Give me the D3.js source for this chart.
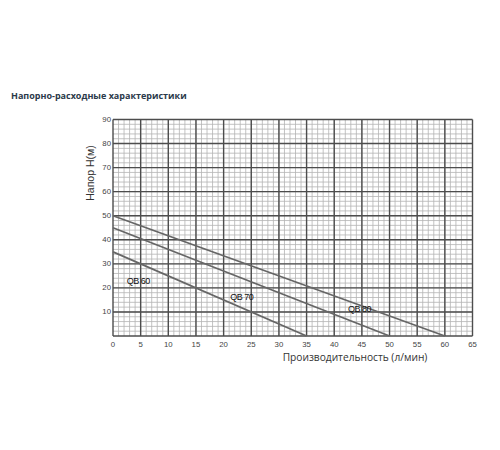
<!DOCTYPE html>
<html>
<head>
<meta charset="utf-8">
<script src="https://cdn.jsdelivr.net/npm/d3@7"></script>
<style>
  body { margin: 0; background: #fff; }
</style>
</head>
<body>
<div id="vis_container"></div>
<script>
// pump curves: head (m) vs flow (l/min)
var seriesNames = ["QB 60", "QB 70", "QB 80"];
var flowQB60 = [0, 35];
var headQB60 = [35, 0];
var flowQB70 = [0, 50];
var headQB70 = [45, 0];
var flowQB80 = [0, 60];
var headQB80 = [50, 0];
var labelFlow = [2.5, 21.2, 42.5];
var labelHead = [21.5, 15, 9.8];
var xTicks = [0, 5, 10, 15, 20, 25, 30, 35, 40, 45, 50, 55, 60, 65];
var yTicks = [10, 20, 30, 40, 50, 60, 70, 80, 90];

var chart = {};
chart.width = 500;
chart.height = 450;
chart.margin = {"top": 119.5, "left": 113, "right": 27.5, "bottom": 114};

chart.svg = d3.select("#vis_container").append("svg")
	.attr("width", chart.width)
	.attr("height", chart.height);

chart.xScale = d3.scaleLinear()
	.domain([0, 65])
	.range([chart.margin.left, chart.width - chart.margin.right]);
chart.yScale = d3.scaleLinear()
	.domain([0, 90])
	.range([chart.height - chart.margin.bottom, chart.margin.top]);

var x = chart.xScale, y = chart.yScale;

// title
chart.svg.append("text")
	.attr("x", 11)
	.attr("y", 99)
	.attr("font-family", "Open Sans")
	.attr("font-weight", "bold")
	.attr("font-size", 9)
	.attr("fill", "#2b3a4a")
	.text("Напорно-расходные характеристики");

// minor grid
var grid = chart.svg.append("g");
grid.selectAll(".vminor").data(d3.range(1, 65))
	.enter().append("line")
	.attr("x1", function(d) { return x(d); })
	.attr("x2", function(d) { return x(d); })
	.attr("y1", y(0)).attr("y2", y(90))
	.attr("stroke", "#b4b4b4").attr("stroke-width", 0.8);
grid.selectAll(".hminor").data(d3.range(2, 90, 2))
	.enter().append("line")
	.attr("y1", function(d) { return y(d); })
	.attr("y2", function(d) { return y(d); })
	.attr("x1", x(0)).attr("x2", x(65))
	.attr("stroke", "#b4b4b4").attr("stroke-width", 0.8);

// major grid
grid.selectAll(".vmajor").data(xTicks)
	.enter().append("line")
	.attr("x1", function(d) { return x(d); })
	.attr("x2", function(d) { return x(d); })
	.attr("y1", y(0)).attr("y2", y(90))
	.attr("stroke", "#4d4d4d").attr("stroke-width", 1.4);
grid.selectAll(".hmajor").data([0].concat(yTicks))
	.enter().append("line")
	.attr("y1", function(d) { return y(d); })
	.attr("y2", function(d) { return y(d); })
	.attr("x1", x(0)).attr("x2", x(65))
	.attr("stroke", "#4d4d4d").attr("stroke-width", 1.4);

// axes tick labels
chart.svg.selectAll(".xlab").data(xTicks)
	.enter().append("text")
	.attr("x", function(d) { return x(d); })
	.attr("y", y(0) + 11)
	.attr("text-anchor", "middle")
	.attr("font-family", "Liberation Sans")
	.attr("font-size", 7.8)
	.attr("fill", "#444")
	.text(function(d) { return d; });
chart.svg.selectAll(".ylab").data(yTicks)
	.enter().append("text")
	.attr("x", x(0) - 2)
	.attr("y", function(d) { return y(d) + 2.5; })
	.attr("text-anchor", "end")
	.attr("font-family", "Liberation Sans")
	.attr("font-size", 7.8)
	.attr("fill", "#444")
	.text(function(d) { return d; });

// axis titles
chart.svg.append("text")
	.attr("x", 355)
	.attr("y", 361)
	.attr("text-anchor", "middle")
	.attr("font-family", "Open Sans")
	.attr("font-size", 10.2)
	.attr("fill", "#333")
	.text("Производительность (л/мин)");
chart.svg.append("text")
	.attr("transform", "translate(94,173) rotate(-90)")
	.attr("text-anchor", "middle")
	.attr("font-family", "Liberation Sans")
	.attr("font-size", 10.5)
	.attr("fill", "#333")
	.text("Напор  H(м)");

// curves
var curves = [
	{name: seriesNames[0], q: flowQB60, h: headQB60},
	{name: seriesNames[1], q: flowQB70, h: headQB70},
	{name: seriesNames[2], q: flowQB80, h: headQB80}
];
var line = d3.line()
	.x(function(d) { return x(d[0]); })
	.y(function(d) { return y(d[1]); });

chart.svg.selectAll(".curve").data(curves)
	.enter().append("path")
	.attr("d", function(d) { return line(d3.zip(d.q, d.h)); })
	.attr("fill", "none")
	.attr("stroke", "#666")
	.attr("stroke-width", 1.8);

chart.svg.selectAll(".curvelab").data(curves)
	.enter().append("text")
	.attr("x", function(d, i) { return x(labelFlow[i]); })
	.attr("y", function(d, i) { return y(labelHead[i]); })
	.attr("font-family", "Liberation Sans")
	.attr("font-size", 9)
	.attr("letter-spacing", -0.5)
	.attr("fill", "#111")
	.text(function(d) { return d.name; });
</script>
</body>
</html>
